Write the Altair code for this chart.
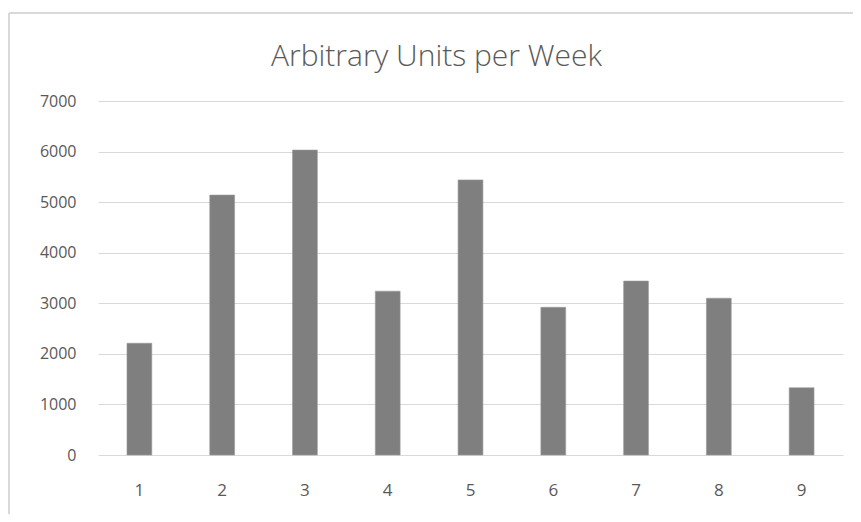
import altair as alt
import pandas as pd

weeks = ["1", "2", "3", "4", "5", "6", "7", "8", "9"]
units = [2210, 5140, 6030, 3240, 5440, 2920, 3440, 3100, 1330]
y_ticks = [0, 1000, 2000, 3000, 4000, 5000, 6000, 7000]

df = pd.DataFrame({"week": weeks, "units": units})

FONT = "Open Sans"
LABEL = "#595959"
GRID = "#d9d9d9"

bars = alt.Chart(df).mark_bar(color="#7f7f7f", stroke="#9a9a9a", strokeWidth=0.6).encode(
    x=alt.X("week:N", sort=weeks, title=None,
            scale=alt.Scale(paddingInner=0.7, paddingOuter=0.35),
            axis=alt.Axis(labelAngle=0, domain=False, ticks=False, labelPadding=27,
                          labelFont=FONT, labelFontSize=17, labelColor=LABEL)),
    y=alt.Y("units:Q", title=None,
            scale=alt.Scale(domain=[0, 7000], nice=False),
            axis=alt.Axis(values=y_ticks, format="d", domain=False, ticks=False, labelPadding=22,
                          gridColor=GRID, gridWidth=1,
                          labelFont=FONT, labelFontSize=16, labelColor=LABEL)),
)

border_top = alt.Chart(df).mark_rule(color=GRID, strokeWidth=2).encode(
    x=alt.value(-89), x2=alt.value(760), y=alt.value(-88)
)
border_left = alt.Chart(df).mark_rule(color=GRID, strokeWidth=2).encode(
    x=alt.value(-89), y=alt.value(-88), y2=alt.value(420)
)

chart = alt.layer(border_top, border_left, bars).properties(
    width=745,
    height=354,
    autosize=alt.AutoSizeParams(type="none"),
    padding={"left": 90, "top": 93, "right": 10, "bottom": 59},
    title=alt.TitleParams(
        "Arbitrary Units per Week", font=FONT, fontSize=30, fontWeight=300,
        color=LABEL, anchor="middle", frame="group", dx=-34, baseline="alphabetic", offset=-84,
    ),
).configure_view(stroke=None)

chart.save("out.html", embed_options={"renderer": "svg", "actions": False})
